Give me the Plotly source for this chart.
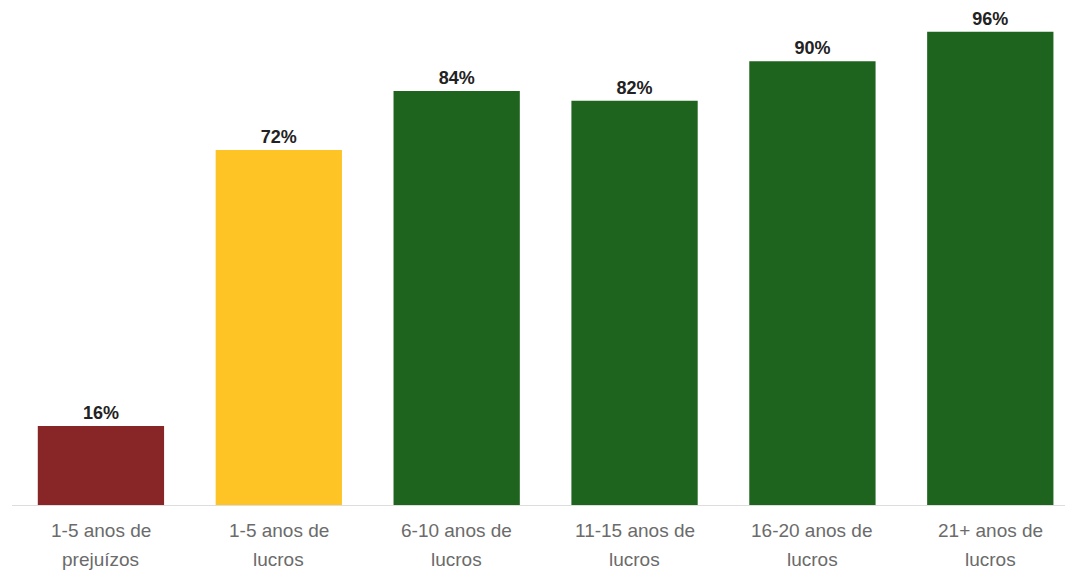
import plotly.graph_objects as go

# Share of periods with positive returns, by history of results
categories = ["1-5 anos de prejuízos", "1-5 anos de lucros", "6-10 anos de lucros",
              "11-15 anos de lucros", "16-20 anos de lucros", "21+ anos de lucros"]
label_line1 = ["1-5 anos de", "1-5 anos de", "6-10 anos de",
               "11-15 anos de", "16-20 anos de", "21+ anos de"]
label_line2 = ["prejuízos", "lucros", "lucros", "lucros", "lucros", "lucros"]
values = [16, 72, 84, 82, 90, 96]
bar_colors = ["#882627", "#FEC425", "#1E641E", "#1E641E", "#1E641E", "#1E641E"]

FONT = "Liberation Sans, Arial, sans-serif"

fig = go.Figure(go.Bar(
    x=list(range(len(categories))),
    y=values,
    marker=dict(color=bar_colors, line=dict(width=0)),
    text=[f"{v}%" for v in values],
    textposition="outside",
    textfont=dict(family=FONT, size=18, color="#222222", weight="bold"),
    cliponaxis=False,
    hovertext=categories,
    hoverinfo="text+y",
))

# two-line category labels under each bar (offsets in pixels below the axis)
plot_h = 570 - 12 - 65
annotations = []
for i, (l1, l2) in enumerate(zip(label_line1, label_line2)):
    for text, dy in ((l1, -25), (l2, -54)):
        annotations.append(dict(x=i, y=dy / plot_h, xref="x", yref="paper",
                                text=text, showarrow=False,
                                xanchor="center", yanchor="middle",
                                font=dict(family=FONT, size=19, color="#6b6b6b")))

fig.update_layout(
    width=1065, height=570,
    margin=dict(l=12, r=0, t=12, b=65),
    paper_bgcolor="white", plot_bgcolor="white",
    bargap=0.29,
    showlegend=False,
    annotations=annotations,
    xaxis=dict(range=[-0.5, 5.42], showticklabels=False, showgrid=False,
               zeroline=False, showline=True, linecolor="#dddddd", linewidth=1,
               ticks="", fixedrange=True),
    yaxis=dict(range=[0, 100], visible=False, fixedrange=True),
)

fig.write_html("out.html")
